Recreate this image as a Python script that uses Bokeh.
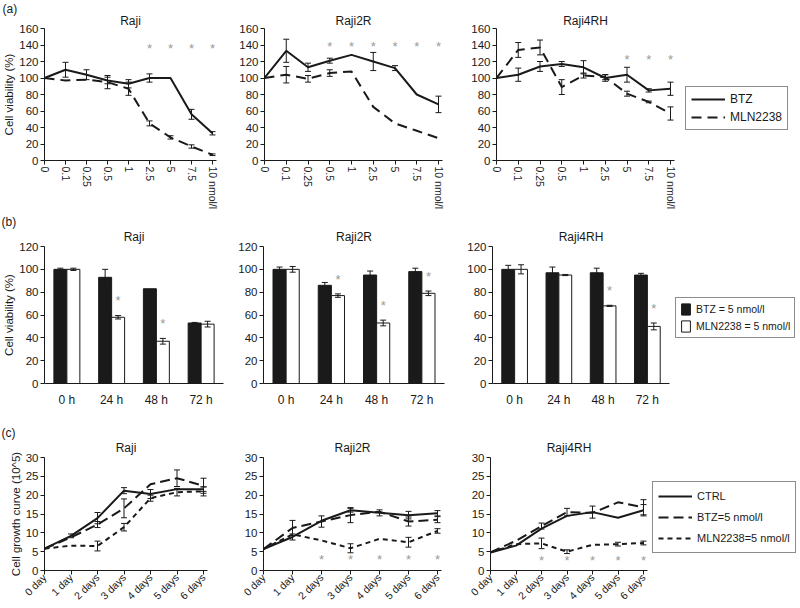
import math
from bokeh.plotting import figure
from bokeh.layouts import row, column
from bokeh.models import (Range1d, FixedTicker, ColumnDataSource, Whisker, TeeHead,
                          Legend, LegendItem, LabelSet, Title)
from bokeh.core.properties import value
from bokeh.embed import file_html
from bokeh.resources import INLINE

FONT = "Liberation Sans"
INK = "#1a1a1a"
STAR = "#9a9a9a"

# ---------------- data: (a) dose response ----------------
dose_labels = ["0", "0.1", "0.25", "0.5", "1", "2.5", "5", "7.5", "10 nmol/l"]

a_raji_btz = [100, 110, 104, 97, 93, 100, 100, 56, 33]
a_raji_btz_err = [0, 9, 6, 4, 5, 5, 0, 6, 2]
a_raji_mln = [100, 97, 98, 95, 87, 45, 28, 17, 7]
a_raji_mln_err = [0, 0, 0, 8, 8, 3, 2, 2, 1]
a_raji_sig = ["2.5", "5", "7.5", "10 nmol/l"]

a_raji2r_btz = [100, 133, 113, 121, 128, 120, 112, 80, 68]
a_raji2r_btz_err = [0, 14, 5, 3, 0, 11, 3, 0, 10]
a_raji2r_mln = [100, 104, 99, 106, 108, 65, 45, 36, 27]
a_raji2r_mln_err = [0, 10, 4, 4, 0, 0, 0, 0, 0]
a_raji2r_sig = ["0.5", "1", "2.5", "5", "7.5", "10 nmol/l"]

a_raji4rh_btz = [100, 104, 114, 117, 113, 100, 104, 85, 87]
a_raji4rh_btz_err = [0, 8, 6, 3, 8, 4, 9, 2, 8]
a_raji4rh_mln = [100, 134, 137, 89, 103, 101, 81, 71, 57]
a_raji4rh_mln_err = [0, 9, 9, 9, 3, 3, 3, 1, 8]
a_raji4rh_sig = ["5", "7.5", "10 nmol/l"]

# ---------------- data: (b) time course, 5 nmol/l ----------------
time_labels = ["0 h", "24 h", "48 h", "72 h"]

b_raji_btz = [100, 93, 83, 53]
b_raji_btz_err = [1, 7, 0, 0.5]
b_raji_mln = [100, 58, 37, 52]
b_raji_mln_err = [1, 1.5, 2.5, 2.5]
b_raji_sig = ["24 h", "48 h"]

b_raji2r_btz = [100, 86, 95, 98]
b_raji2r_btz_err = [2, 2.5, 3.5, 3]
b_raji2r_mln = [100, 77, 53, 79]
b_raji2r_mln_err = [2.5, 1.5, 2.5, 2]
b_raji2r_sig = ["24 h", "48 h", "72 h"]

b_raji4rh_btz = [100, 97, 97, 95]
b_raji4rh_btz_err = [3.5, 5, 4, 1.5]
b_raji4rh_mln = [100, 95, 68, 50]
b_raji4rh_mln_err = [4, 0.5, 0.5, 3]
b_raji4rh_sig = ["48 h", "72 h"]

# ---------------- data: (c) growth curves ----------------
day_labels = ["0 day", "1 day", "2 days", "3 days", "4 days", "5 days", "6 days"]

c_raji_ctrl = [5.8, 9.2, 13.9, 21.2, 20.3, 21.6, 21.6]
c_raji_ctrl_err = [0, 0.5, 1.5, 0.8, 1.2, 0, 0.6]
c_raji_btz = [5.8, 8.8, 12.2, 16.5, 22.9, 24.5, 22.5]
c_raji_btz_err = [0, 0, 0.8, 2.5, 0, 2.2, 2.0]
c_raji_mln = [5.8, 6.6, 6.5, 11.5, 19.2, 20.8, 21.0]
c_raji_mln_err = [0, 0, 1.3, 1.0, 0.8, 1.0, 1.2]
c_raji_sig = []

c_raji2r_ctrl = [5.7, 8.9, 13.2, 16.0, 15.3, 14.7, 15.2]
c_raji2r_ctrl_err = [0, 0.8, 0, 0.5, 0.8, 1.0, 0.7]
c_raji2r_btz = [5.7, 11.3, 13.0, 14.7, 15.6, 13.0, 13.5]
c_raji2r_btz_err = [0, 2.0, 1.5, 2.0, 0, 1.2, 0.8]
c_raji2r_mln = [5.7, 9.6, 8.0, 5.9, 8.4, 7.5, 10.5]
c_raji2r_mln_err = [0, 0, 0, 1.2, 0, 1.3, 0.6]
c_raji2r_sig = ["2 days", "3 days", "4 days", "5 days", "6 days"]

c_raji4rh_ctrl = [4.8, 6.6, 11.1, 14.5, 15.5, 14.0, 16.0]
c_raji4rh_ctrl_err = [0, 0, 0, 0, 1.6, 0, 1.5]
c_raji4rh_btz = [4.8, 7.9, 11.8, 15.5, 15.3, 18.1, 16.8]
c_raji4rh_btz_err = [0, 0, 0.8, 1.0, 0, 0, 2.0]
c_raji4rh_mln = [4.8, 7.0, 7.2, 5.0, 6.8, 7.0, 7.3]
c_raji4rh_mln_err = [0, 0, 1.4, 0.5, 0, 0.5, 0.5]
c_raji4rh_sig = ["2 days", "3 days", "4 days", "5 days", "6 days"]


# ---------------- helpers ----------------
def new_fig(title, fw, fh, xend, yend, yticks, lb, rb, tb, bb, standoff):
    p = figure(title=None, frame_width=fw, frame_height=fh,
               x_range=Range1d(0, xend), y_range=Range1d(0, yend),
               output_backend="svg", toolbar_location=None,
               min_border_left=lb, min_border_right=rb,
               min_border_top=tb, min_border_bottom=bb)
    p.add_layout(Title(text=title, align="center", text_font=FONT, text_font_size="12px",
                       text_font_style="normal", text_color=INK, standoff=standoff), "above")
    p.xgrid.visible = False
    p.ygrid.visible = False
    p.outline_line_color = None
    for ax in (p.xaxis[0], p.yaxis[0]):
        ax.axis_line_color = INK
        ax.major_tick_line_color = INK
        ax.minor_tick_line_color = None
        ax.major_tick_in = 0
        ax.major_tick_out = 4
        ax.major_label_standoff = 2
        ax.major_label_text_font = FONT
        ax.major_label_text_color = INK
    p.yaxis.ticker = FixedTicker(ticks=yticks)
    p.yaxis.major_label_text_font_size = "11.5px"
    return p


def ylabel(p, text):
    p.yaxis.axis_label = text
    p.yaxis.axis_label_text_font = FONT
    p.yaxis.axis_label_text_font_size = "11.5px"
    p.yaxis.axis_label_text_font_style = "normal"
    p.yaxis.axis_label_text_color = INK
    p.yaxis.axis_label_standoff = 1


def panel_tag(p, text, offset, standoff):
    # a negative standoff lets the tag sit level with the panel title instead of
    # taking a full extra row above it
    p.add_layout(Title(text=text, align="left", offset=offset, standoff=standoff,
                       text_font=FONT, text_font_size="12px", text_font_style="normal",
                       text_color=INK), "above")


def add_err(p, xs, ys, errs):
    keep = [(x, y, e) for x, y, e in zip(xs, ys, errs) if e > 0]
    if not keep:
        return
    src = ColumnDataSource(dict(x=[k[0] for k in keep],
                                lo=[k[1] - k[2] for k in keep],
                                hi=[k[1] + k[2] for k in keep]))
    w = Whisker(source=src, base="x", lower="lo", upper="hi",
                line_color=INK, line_width=1, level="annotation",
                upper_head=TeeHead(size=6, line_color=INK, line_width=1),
                lower_head=TeeHead(size=6, line_color=INK, line_width=1))
    p.add_layout(w)


def add_stars(p, xs, ys):
    if not xs:
        return
    src = ColumnDataSource(dict(x=xs, y=ys, t=["*"] * len(xs)))
    p.add_layout(LabelSet(x="x", y="y", text="t", source=src, text_color=STAR,
                          text_font=value(FONT), text_font_size="13px",
                          text_align="center", text_baseline="middle"))


def legend_style(lg, font_size, gw, gh, pad, spacing, margin):
    lg.border_line_color = INK
    lg.border_line_width = 1
    lg.background_fill_color = "white"
    lg.background_fill_alpha = 1
    lg.label_text_font = FONT
    lg.label_text_font_size = font_size
    lg.label_text_color = INK
    lg.glyph_width = gw
    lg.glyph_height = gh
    lg.padding = pad
    lg.spacing = spacing
    lg.margin = margin
    lg.label_standoff = 5
    lg.label_height = gh


# ---------------- row (a) ----------------
A_FH = 132


def dose_panel(title, btz, btz_err, mln, mln_err, sig, star_y, fw, lb, rb):
    n = len(dose_labels) - 1
    xend = n + 4.0 * n / (fw - 4)          # ~4 px of room after the last dose
    p = new_fig(title, fw, A_FH, xend, 160, list(range(0, 161, 20)),
                lb, rb, 28, 54, 2)
    xs = list(range(len(dose_labels)))
    r1 = p.line(xs, btz, line_color=INK, line_width=2)
    r2 = p.line(xs, mln, line_color=INK, line_width=2, line_dash="10 6")
    add_err(p, xs, btz, btz_err)
    add_err(p, xs, mln, mln_err)
    sx = [dose_labels.index(s) for s in sig]
    add_stars(p, sx, [star_y] * len(sx))
    p.xaxis.ticker = FixedTicker(ticks=xs)
    p.xaxis.major_label_overrides = {i: lab for i, lab in enumerate(dose_labels)}
    p.xaxis.major_label_orientation = "vertical"
    p.xaxis.major_label_text_font_size = "10.5px"
    return p, r1, r2


pa1, _, _ = dose_panel("Raji", a_raji_btz, a_raji_btz_err, a_raji_mln, a_raji_mln_err,
                       a_raji_sig, 136, 172, 43, 20)
ylabel(pa1, "Cell viability (%)")
panel_tag(pa1, "(a)", -42, -11)
pa2, _, _ = dose_panel("Raji2R", a_raji2r_btz, a_raji2r_btz_err, a_raji2r_mln, a_raji2r_mln_err,
                       a_raji2r_sig, 138, 178, 27, 26)
pa3, ra1, ra2 = dose_panel("Raji4RH", a_raji4rh_btz, a_raji4rh_btz_err, a_raji4rh_mln,
                           a_raji4rh_mln_err, a_raji4rh_sig, 123, 178, 27, 5)
lga = Legend(items=[LegendItem(label="BTZ", renderers=[ra1]),
                    LegendItem(label="MLN2238", renderers=[ra2])], location=(11, 30))
legend_style(lga, "12px", 34, 14, 5, 4, 11)
pa3.add_layout(lga, "right")

# ---------------- row (b) ----------------
B_FH = 137


def time_panel(title, btz, btz_err, mln, mln_err, sig, fw, lb, rb):
    p = new_fig(title, fw, B_FH, len(time_labels), 120, list(range(0, 121, 20)),
                lb, rb, 32, 25, 5)
    cx = [i + 0.5 for i in range(len(time_labels))]
    bx = [c - 0.145 for c in cx]
    wx = [c + 0.145 for c in cx]
    r1 = p.vbar(x=bx, top=btz, width=0.29, fill_color=INK, line_color=INK, line_width=1)
    r2 = p.vbar(x=wx, top=mln, width=0.29, fill_color="white", line_color=INK, line_width=1)
    add_err(p, bx, btz, btz_err)
    add_err(p, wx, mln, mln_err)
    si = [time_labels.index(s) for s in sig]
    add_stars(p, [wx[i] for i in si], [mln[i] + mln_err[i] + 13 for i in si])
    p.xaxis.ticker = FixedTicker(ticks=cx)
    p.xaxis.major_label_overrides = {c: lab for c, lab in zip(cx, time_labels)}
    p.xaxis.major_tick_line_color = None
    p.xaxis.major_tick_out = 0
    p.xaxis.major_label_standoff = 9
    p.xaxis.major_label_text_font_size = "12px"
    return p, r1, r2


pb1, _, _ = time_panel("Raji", b_raji_btz, b_raji_btz_err, b_raji_mln, b_raji_mln_err,
                       b_raji_sig, 179, 44, 12)
ylabel(pb1, "Cell viability (%)")
panel_tag(pb1, "(b)", -43, -7)
pb2, _, _ = time_panel("Raji2R", b_raji2r_btz, b_raji2r_btz_err, b_raji2r_mln, b_raji2r_mln_err,
                       b_raji2r_sig, 181, 27, 20)
pb3, rb1, rb2 = time_panel("Raji4RH", b_raji4rh_btz, b_raji4rh_btz_err, b_raji4rh_mln,
                           b_raji4rh_mln_err, b_raji4rh_sig, 177, 27, 5)
lgb = Legend(items=[LegendItem(label="BTZ = 5 nmol/l", renderers=[rb1]),
                    LegendItem(label="MLN2238 = 5 nmol/l", renderers=[rb2])], location=(6, 45))
legend_style(lgb, "10.5px", 11, 14, 4, 3, 6)
pb3.add_layout(lgb, "right")

# ---------------- row (c) ----------------
C_FH = 113


def growth_panel(title, ctrl, ctrl_err, btz, btz_err, mln, mln_err, sig, star_y, fw, lb, rb):
    n = len(day_labels) - 1
    xend = n + 4.0 * n / (fw - 4)
    p = new_fig(title, fw, C_FH, xend, 30, list(range(0, 31, 5)),
                lb, rb, 48, 36, 5)
    xs = list(range(len(day_labels)))
    r1 = p.line(xs, ctrl, line_color=INK, line_width=2)
    r2 = p.line(xs, btz, line_color=INK, line_width=2, line_dash="10 5")
    r3 = p.line(xs, mln, line_color=INK, line_width=2, line_dash="5 4")
    add_err(p, xs, ctrl, ctrl_err)
    add_err(p, xs, btz, btz_err)
    add_err(p, xs, mln, mln_err)
    sx = [day_labels.index(s) for s in sig]
    add_stars(p, sx, [star_y] * len(sx))
    p.xaxis.ticker = FixedTicker(ticks=xs)
    p.xaxis.major_label_overrides = {i: lab for i, lab in enumerate(day_labels)}
    p.xaxis.major_label_orientation = math.pi / 4
    p.xaxis.major_label_standoff = 1
    p.xaxis.major_label_text_font_size = "10.5px"
    return p, r1, r2, r3


pc1, _, _, _ = growth_panel("Raji", c_raji_ctrl, c_raji_ctrl_err, c_raji_btz, c_raji_btz_err,
                            c_raji_mln, c_raji_mln_err, c_raji_sig, 3, 163, 44, 29)
ylabel(pc1, "Cell growth curve (10^5)")
panel_tag(pc1, "(c)", -43, -6)
pc2, _, _, _ = growth_panel("Raji2R", c_raji2r_ctrl, c_raji2r_ctrl_err, c_raji2r_btz,
                            c_raji2r_btz_err, c_raji2r_mln, c_raji2r_mln_err, c_raji2r_sig,
                            2.8, 178, 27, 22)
pc3, rc1, rc2, rc3 = growth_panel("Raji4RH", c_raji4rh_ctrl, c_raji4rh_ctrl_err, c_raji4rh_btz,
                                  c_raji4rh_btz_err, c_raji4rh_mln, c_raji4rh_mln_err,
                                  c_raji4rh_sig, 2.6, 157, 27, 5)
lgc = Legend(items=[LegendItem(label="CTRL", renderers=[rc1]),
                    LegendItem(label="BTZ=5 nmol/l", renderers=[rc2]),
                    LegendItem(label="MLN2238=5 nmol/l", renderers=[rc3])], location=(5, 17))
legend_style(lgc, "11px", 34, 18, 5, 3, 5)
pc3.add_layout(lgc, "right")

layout = column(row(pa1, pa2, pa3), row(pb1, pb2, pb3), row(pc1, pc2, pc3))

open("out.html", "w").write(file_html(layout, INLINE))
